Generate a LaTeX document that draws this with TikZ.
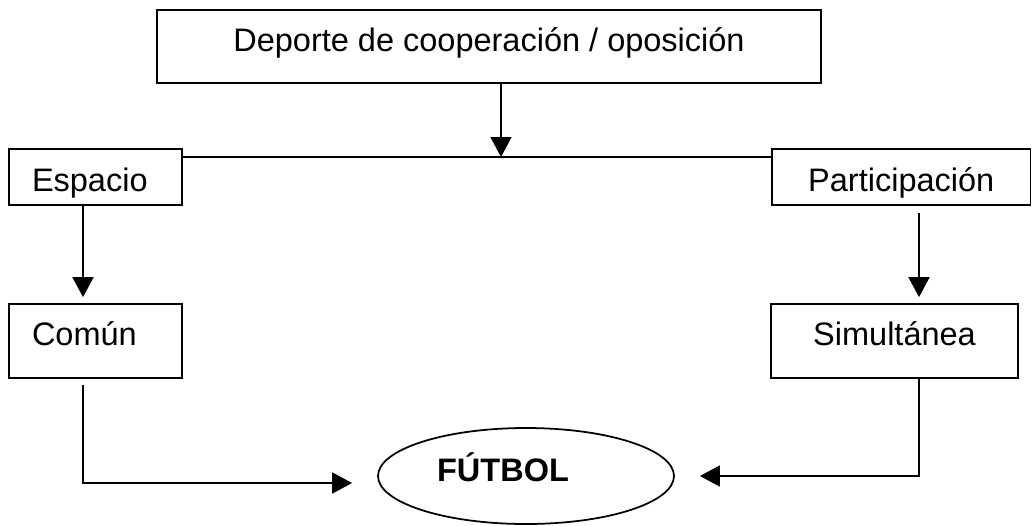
\documentclass[tikz,border=0pt]{standalone}
\usepackage{fontspec}
\setmainfont{Liberation Sans}
\usetikzlibrary{shapes.geometric, arrows.meta}
\tikzstyle{arrow}  = [line width=1.75pt,-{Triangle[length=20pt,width=21pt]}]
\tikzstyle{link}   = [line width=1.75pt]
\tikzstyle{block}  = [rectangle, draw, line width=1.75pt, inner sep=0pt, align=center]
\tikzstyle{lblock} = [block, inner xsep=23pt, text width=127pt, align=left]
\tikzset{every node/.style={font=\fontsize{32.5}{38}\selectfont}}

\begin{document}
\begin{tikzpicture}[x=1pt, y=-1pt]
    \useasboundingbox (0,0) rectangle (1032,525);

    \node (dep) at (489, 46.5)   [block, minimum width=664pt, text height=41pt, text depth=32pt]
          {Deporte de cooperación / oposición};
    \node (esp) at (95.5, 177)   [lblock, text height=42pt, text depth=14pt] {Espacio};
    \node (par) at (901.25, 177) [block, minimum width=258.5pt, text height=42pt, text depth=14pt] {Participación};
    \node (com) at (95.5, 341)   [lblock, text height=41pt, text depth=33pt] {Común};
    \node (sim) at (894.5, 341)  [block, minimum width=247pt, text height=41pt, text depth=33pt] {Simultánea};
    \node (fut) at (526, 476)    [ellipse, draw, line width=1.75pt, inner sep=0pt,
          minimum width=296pt, minimum height=96pt, text height=30pt, text depth=20pt,
          font=\fontsize{32.5}{38}\selectfont\bfseries] {FÚTBOL\hspace*{46pt}};

    \coordinate (bar) at (501, 157);

    \draw [link]  (esp.east |- bar) -- (par.west |- bar);
    \draw [arrow] (dep.south -| bar) -- (bar);
    \draw [arrow, shorten >=6pt] ([xshift=-12.5pt]esp.south) -- ([xshift=-12.5pt]com.north);
    \draw [arrow, shorten <=7pt, shorten >=6pt] ([xshift=17.75pt]par.south) -- ([xshift=17.75pt]par.south |- sim.north);
    \draw [arrow, shorten <=6pt, shorten >=25pt] ([xshift=-12.5pt]com.south) |- ([yshift=-7pt]fut.west);
    \draw [arrow, shorten >=25pt] ([xshift=24.5pt]sim.south) |- (fut.east);
\end{tikzpicture}
\end{document}
